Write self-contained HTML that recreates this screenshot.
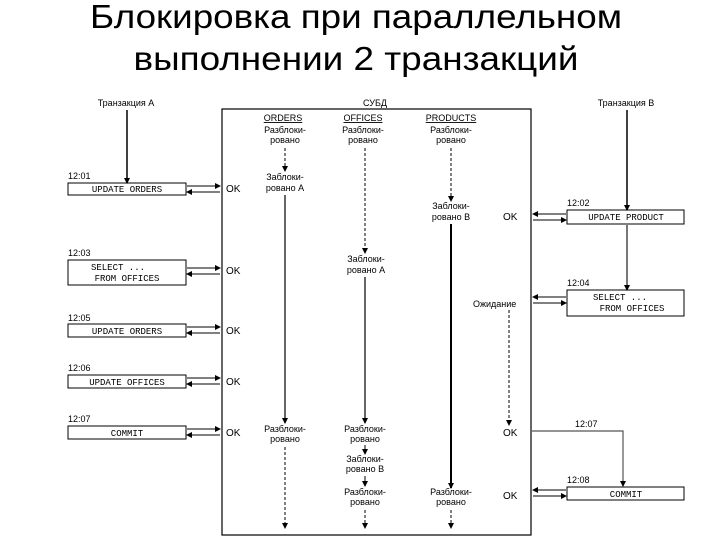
<!DOCTYPE html>
<html><head><meta charset="utf-8"><style>
html,body{margin:0;padding:0;background:#fff;}
svg{display:block;}
text{font-family:"Liberation Sans",sans-serif;fill:#000;}
.m text, text.m{font-family:"Liberation Mono",monospace;font-size:9px;}
.s text, text.s{font-size:9px;}
.o text{font-size:10px;}
</style></head><body>
<svg width="720" height="540" viewBox="0 0 720 540" xmlns="http://www.w3.org/2000/svg">
<defs>
<marker id="a" markerWidth="6" markerHeight="6" refX="5" refY="3" orient="auto" markerUnits="userSpaceOnUse"><path d="M0,0 L6,3 L0,6z" fill="#000"/></marker>
</defs>
<text x="356" y="28" font-size="33" text-anchor="middle" textLength="532" lengthAdjust="spacingAndGlyphs">Блокировка при параллельном</text>
<text x="356" y="70" font-size="33" text-anchor="middle" textLength="445" lengthAdjust="spacingAndGlyphs">выполнении 2 транзакций</text>

<rect x="222" y="109" width="309" height="426" fill="none" stroke="#000" stroke-width="1.2"/>
<text x="375" y="106" class="s" text-anchor="middle">СУБД</text>
<text x="283" y="121" class="s" text-anchor="middle" text-decoration="underline">ORDERS</text>
<text x="363" y="121" class="s" text-anchor="middle" text-decoration="underline">OFFICES</text>
<text x="451" y="121" class="s" text-anchor="middle" text-decoration="underline">PRODUCTS</text>

<g class="s" text-anchor="middle">
<text x="285" y="133">Разблоки-</text><text x="285" y="143">ровано</text>
<text x="363" y="133">Разблоки-</text><text x="363" y="143">ровано</text>
<text x="451" y="133">Разблоки-</text><text x="451" y="143">ровано</text>
<text x="285" y="180">Заблоки-</text><text x="285" y="191">ровано А</text>
<text x="366" y="262">Заблоки-</text><text x="366" y="273">ровано А</text>
<text x="451" y="209">Заблоки-</text><text x="451" y="220">ровано В</text>
<text x="285" y="432">Разблоки-</text><text x="285" y="442">ровано</text>
<text x="365" y="432">Разблоки-</text><text x="365" y="442">ровано</text>
<text x="365" y="462">Заблоки-</text><text x="365" y="472">ровано В</text>
<text x="365" y="495">Разблоки-</text><text x="365" y="505">ровано</text>
<text x="451" y="495">Разблоки-</text><text x="451" y="505">ровано</text>
</g>
<g stroke="#000" fill="none">
<path d="M285 148 V171" stroke-dasharray="3,2" marker-end="url(#a)"/>
<path d="M365 148 V253" stroke-dasharray="3,2" marker-end="url(#a)"/>
<path d="M451 148 V201" stroke-dasharray="3,2" marker-end="url(#a)"/>
<path d="M285 195 V423" stroke-width="1.2" marker-end="url(#a)"/>
<path d="M365 277 V423" stroke-width="1.2" marker-end="url(#a)"/>
<path d="M451 224 V488" stroke-width="2" marker-end="url(#a)"/>
<path d="M365 445 V454" marker-end="url(#a)"/>
<path d="M365 476 V486" marker-end="url(#a)"/>
<path d="M285 447 V528" stroke-dasharray="3,2" marker-end="url(#a)"/>
<path d="M365 510 V528" stroke-dasharray="3,2" marker-end="url(#a)"/>
<path d="M451 510 V528" stroke-dasharray="3,2" marker-end="url(#a)"/>
<path d="M509 310 V425" stroke-dasharray="3,2" marker-end="url(#a)"/>
</g>

<text x="126" y="106" class="s" text-anchor="middle">Транзакция А</text>
<path d="M127 110 V183" stroke="#000" stroke-width="1.5" marker-end="url(#a)"/>
<g fill="none" stroke="#000">
<rect x="68" y="183" width="118" height="12"/>
<rect x="68" y="260" width="118" height="25"/>
<rect x="68" y="324" width="118" height="13"/>
<rect x="68" y="375" width="118" height="13"/>
<rect x="68" y="426" width="118" height="13"/>
</g>
<g class="s">
<text x="68" y="179">12:01</text><text x="68" y="256">12:03</text><text x="68" y="321">12:05</text><text x="68" y="371">12:06</text><text x="68" y="422">12:07</text>
</g>
<g class="m" text-anchor="middle">
<text x="127" y="192">UPDATE ORDERS</text>
<text x="118" y="270">SELECT ...</text>
<text x="127" y="281">FROM OFFICES</text>
<text x="127" y="334">UPDATE ORDERS</text>
<text x="127" y="385">UPDATE OFFICES</text>
<text x="127" y="436">COMMIT</text>
</g>
<g stroke="#000" fill="none">
<path d="M187 186 H220" marker-end="url(#a)"/><path d="M220 192 H187" marker-end="url(#a)"/>
<path d="M187 268 H220" marker-end="url(#a)"/><path d="M220 274 H187" marker-end="url(#a)"/>
<path d="M187 327 H220" marker-end="url(#a)"/><path d="M220 333 H187" marker-end="url(#a)"/>
<path d="M187 378 H220" marker-end="url(#a)"/><path d="M220 384 H187" marker-end="url(#a)"/>
<path d="M187 429 H220" marker-end="url(#a)"/><path d="M220 435 H187" marker-end="url(#a)"/>
</g>
<g class="o">
<text x="226" y="192">OK</text><text x="226" y="274">OK</text><text x="226" y="334">OK</text><text x="226" y="385">OK</text><text x="226" y="436">OK</text>
</g>

<text x="626" y="106" class="s" text-anchor="middle">Транзакция В</text>
<path d="M627 110 V210" stroke="#000" stroke-width="1.5" marker-end="url(#a)"/>
<path d="M627 225 V290" stroke="#777" stroke-width="2" marker-end="url(#a)"/>
<g fill="none" stroke="#000">
<rect x="567" y="210" width="117" height="14"/>
<rect x="567" y="290" width="117" height="26"/>
<rect x="567" y="487" width="117" height="13"/>
</g>
<g class="s"><text x="567" y="206">12:02</text><text x="567" y="286">12:04</text><text x="567" y="483">12:08</text><text x="575" y="427">12:07</text></g>
<g class="m" text-anchor="middle">
<text x="626" y="220">UPDATE PRODUCT</text>
<text x="620" y="300">SELECT ...</text>
<text x="632" y="311">FROM OFFICES</text>
<text x="626" y="497">COMMIT</text>
</g>
<g stroke="#000" fill="none">
<path d="M566 214 H533" marker-end="url(#a)"/><path d="M533 220 H566" marker-end="url(#a)"/>
<path d="M566 297 H533" marker-end="url(#a)"/><path d="M533 303 H566" marker-end="url(#a)"/>
<path d="M566 490 H533" marker-end="url(#a)"/><path d="M533 496 H566" marker-end="url(#a)"/>
<path d="M532 431 H623 V486" stroke="#555" stroke-width="1.2" marker-end="url(#a)"/>
</g>
<g class="o">
<text x="503" y="220">OK</text><text x="503" y="436">OK</text><text x="503" y="499">OK</text>
</g>
<text x="473" y="307" class="s">Ожидание</text>
</svg>
</body></html>
